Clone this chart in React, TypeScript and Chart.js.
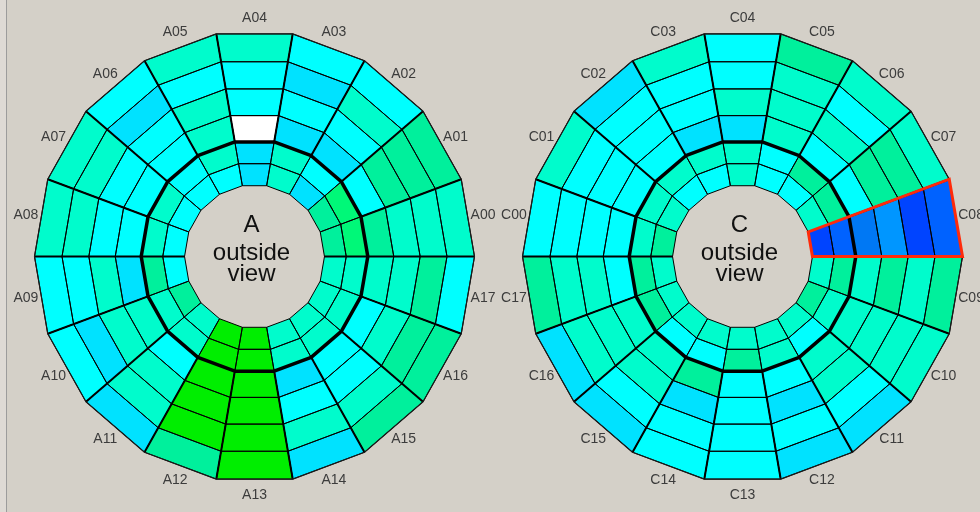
import React, { useEffect, useRef } from 'react';
import { Chart, registerables } from 'chart.js';

Chart.register(...registerables);

// Sector names (clockwise / counter-clockwise as in the picture)
const sectorsA = ['A00','A01','A02','A03','A04','A05','A06','A07','A08','A09','A10','A11','A12','A13','A14','A15','A16','A17'];
const sectorsC = ['C00','C01','C02','C03','C04','C05','C06','C07','C08','C09','C10','C11','C12','C13','C14','C15','C16','C17'];

// Ring boundaries (fraction of outer radius), inner hole -> outer edge
const ringRadii = [0.318, 0.417, 0.515, 0.633, 0.753, 0.875, 1.0];
const thickRingIndex = 2;

// Cell levels per sector, ring0 (inner) .. ring5 (outer); null = no data (white)
const valuesA: (number | null)[][] = [
  [7, 8, 7, 6, 6, 6], // A00
  [7, 8, 5, 7, 7, 7], // A01
  [4, 5, 4, 5, 6, 5], // A02
  [6, 6, 4, 5, 4, 5], // A03
  [4, 4, null, 5, 5, 6], // A04
  [5, 6, 6, 6, 5, 6], // A05
  [5, 5, 5, 5, 4, 5], // A06
  [5, 6, 5, 5, 6, 6], // A07
  [5, 6, 5, 5, 6, 6], // A08
  [5, 7, 4, 6, 5, 5], // A09
  [7, 6, 6, 6, 4, 5], // A10
  [6, 6, 5, 6, 6, 4], // A11
  [9, 9, 9, 9, 9, 7], // A12
  [9, 9, 9, 9, 9, 9], // A13
  [6, 6, 4, 5, 6, 4], // A14
  [6, 6, 5, 5, 6, 7], // A15
  [6, 6, 5, 6, 7, 7], // A16
  [6, 6, 6, 6, 7, 5], // A17
];

const valuesC: (number | null)[][] = [
  [7, 6, 5, 5, 5, 5], // C00
  [6, 6, 5, 5, 5, 6], // C01
  [5, 6, 5, 5, 5, 4], // C02
  [5, 6, 4, 5, 5, 6], // C03
  [6, 6, 4, 6, 5, 5], // C04
  [5, 5, 6, 6, 6, 7], // C05
  [5, 7, 5, 6, 5, 6], // C06
  [6, 7, 5, 7, 7, 6], // C07
  [0, 1, 2, 3, 0, 1], // C08
  [6, 7, 6, 7, 6, 7], // C09
  [7, 6, 6, 6, 6, 6], // C10
  [6, 5, 6, 6, 5, 4], // C11
  [6, 6, 5, 4, 5, 4], // C12
  [6, 7, 5, 5, 5, 5], // C13
  [6, 5, 7, 4, 5, 5], // C14
  [6, 5, 6, 6, 5, 4], // C15
  [6, 7, 6, 6, 6, 4], // C16
  [6, 7, 5, 6, 6, 7], // C17
];

// Colour levels
const palette = ['#0044ff', '#0062ff', '#0078f4', '#0096ff', '#00e2ff', '#00ffff', '#00fccc', '#00f09c', '#00f878', '#00ee00'];
const missingColor = '#ffffff';

const highlightSector = 'C08';
const titles = ['A', 'C'];
const subtitle = ['outside', 'view'];

type PlotDef = {
  names: string[];
  values: (number | null)[][];
  cx: number;
  cy: number;
  start: number;
  dir: number;
  title: string;
};

const plots: PlotDef[] = [
  { names: sectorsA, values: valuesA, cx: 0, cy: 0, start: 10, dir: 1, title: titles[0] },
  { names: sectorsC, values: valuesC, cx: 2.2182, cy: 0, start: 170, dir: -1, title: titles[1] },
];

const deg = Math.PI / 180;

const wheelPlugin = {
  id: 'wheel',
  afterDatasetsDraw(chart: any) {
    const ctx: CanvasRenderingContext2D = chart.ctx;
    const sx = chart.scales.x;
    const sy = chart.scales.y;
    const P = (p: PlotDef, r: number, aDeg: number): [number, number] => [
      sx.getPixelForValue(p.cx + r * Math.cos(aDeg * deg)),
      sy.getPixelForValue(p.cy + r * Math.sin(aDeg * deg)),
    ];
    ctx.save();
    const nR = ringRadii.length - 1;
    const quad = (p: PlotDef, r0: number, r1: number, a0: number, a1: number) => {
      const pts = [P(p, r0, a0), P(p, r1, a0), P(p, r1, a1), P(p, r0, a1)];
      ctx.beginPath();
      ctx.moveTo(pts[0][0], pts[0][1]);
      for (let i = 1; i < 4; i++) ctx.lineTo(pts[i][0], pts[i][1]);
      ctx.closePath();
    };
    const ring = (p: PlotDef, r: number) => {
      ctx.beginPath();
      for (let i = 0; i <= 18; i++) {
        const [x, y] = P(p, r, i * 20);
        if (i === 0) ctx.moveTo(x, y); else ctx.lineTo(x, y);
      }
      ctx.closePath();
    };
    for (const p of plots) {
      // cells
      p.names.forEach((_, k) => {
        const c = p.start + p.dir * 20 * k;
        for (let j = 0; j < nR; j++) {
          const v = p.values[k][j];
          quad(p, ringRadii[j], ringRadii[j + 1], c - 10, c + 10);
          ctx.fillStyle = v === null ? missingColor : palette[v];
          ctx.fill();
        }
      });
      // thin cell outlines
      ctx.strokeStyle = '#000';
      ctx.lineWidth = 1;
      p.names.forEach((_, k) => {
        const c = p.start + p.dir * 20 * k;
        for (let j = 0; j < nR; j++) {
          quad(p, ringRadii[j], ringRadii[j + 1], c - 10, c + 10);
          ctx.stroke();
        }
      });
      // sector boundaries (outer part thick)
      ctx.lineWidth = 2;
      for (let i = 0; i < 18; i++) {
        const a = i * 20;
        const rIn = a % 180 === 0 ? ringRadii[0] : ringRadii[thickRingIndex];
        const [x0, y0] = P(p, rIn, a);
        const [x1, y1] = P(p, 1, a);
        ctx.beginPath();
        ctx.moveTo(x0, y0);
        ctx.lineTo(x1, y1);
        ctx.stroke();
      }
      // thick ring
      ctx.lineWidth = 3.5;
      ctx.lineJoin = 'round';
      ring(p, ringRadii[thickRingIndex]);
      ctx.stroke();
      // outer edge
      ctx.lineWidth = 1.2;
      ctx.strokeStyle = '#1a1a1a';
      ring(p, 1);
      ctx.stroke();
      // highlighted sector
      const hk = p.names.indexOf(highlightSector);
      if (hk >= 0) {
        const c = p.start + p.dir * 20 * hk;
        quad(p, ringRadii[0], 1, c - 10, c + 10);
        ctx.strokeStyle = '#ff2a0a';
        ctx.lineWidth = 3;
        ctx.lineJoin = 'miter';
        ctx.stroke();
      }
      // sector labels
      ctx.fillStyle = '#3c3c3c';
      ctx.font = '14px "Liberation Sans", Arial, sans-serif';
      ctx.textAlign = 'center';
      ctx.textBaseline = 'middle';
      p.names.forEach((name, k) => {
        const c = p.start + p.dir * 20 * k;
        const [x, y] = P(p, 1.055, c);
        ctx.fillText(name, x, y);
      });
      // centre text
      ctx.fillStyle = '#111';
      ctx.font = '24px "Liberation Sans", Arial, sans-serif';
      ctx.textBaseline = 'alphabetic';
      const tx = sx.getPixelForValue(p.cx - 0.0136);
      ctx.fillText(p.title, tx, sy.getPixelForValue(p.cy + 0.1084));
      ctx.fillText(subtitle[0], tx, sy.getPixelForValue(p.cy - 0.0133));
      ctx.fillText(subtitle[1], tx, sy.getPixelForValue(p.cy - 0.1062));
    }
    ctx.restore();
  },
};

export default function App() {
  const ref = useRef<HTMLCanvasElement>(null);
  useEffect(() => {
    if (!ref.current) return;
    const chart = new Chart(ref.current, {
      type: 'scatter',
      data: { datasets: [{ data: [], pointRadius: 0 }] },
      options: {
        animation: false,
        responsive: false,
        devicePixelRatio: 1,
        layout: { padding: 0 },
        plugins: { legend: { display: false }, tooltip: { enabled: false } },
        scales: {
          x: { type: 'linear', min: -1.15682, max: 3.29773, display: false },
          y: { type: 'linear', min: -1.13047, max: 1.13496, display: false },
        },
      },
      plugins: [wheelPlugin],
    });
    return () => chart.destroy();
  }, []);
  return (
    <div style={{ position: 'fixed', left: 0, top: 0, width: 980, height: 512, background: '#d4d0c8', overflow: 'hidden' }}>
      <div style={{ position: 'absolute', left: 0, top: 0, width: 6, height: 512, background: '#dedad5' }} />
      <div style={{ position: 'absolute', left: 6, top: 0, width: 1, height: 512, background: '#9c9c9c' }} />
      <canvas ref={ref} width={980} height={512} style={{ position: 'absolute', left: 0, top: 0, width: 980, height: 512 }} />
    </div>
  );
}
